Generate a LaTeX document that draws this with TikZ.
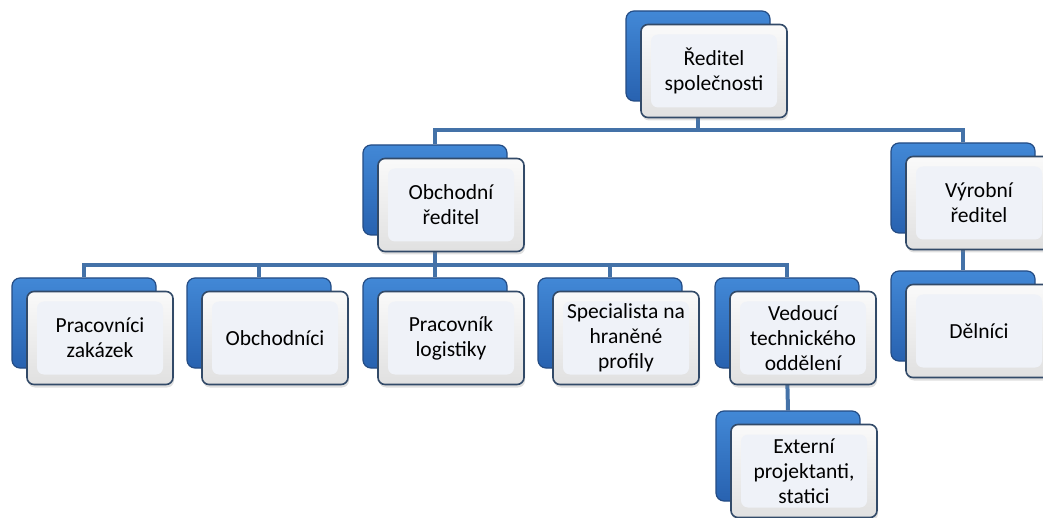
\documentclass[tikz,border=0pt]{standalone}
\usepackage{fontspec}
\setmainfont{Carlito}
\usetikzlibrary{backgrounds,shadows}

\definecolor{conncol}{RGB}{68,114,168}
\definecolor{backtop}{RGB}{66,136,214}
\definecolor{backbot}{RGB}{40,98,176}
\definecolor{backline}{RGB}{36,76,132}
\definecolor{frontline}{RGB}{50,74,104}
\definecolor{frontin}{RGB}{239,242,248}

\tikzset{
  backbox/.style={draw=backline, line width=1.2pt, rounded corners=8pt,
    top color=backtop, bottom color=backbot,
    minimum width=144pt, minimum height=90pt, inner sep=0pt},
  frontbox/.style={draw=frontline, line width=1.6pt, rounded corners=7pt,
    top color=gray!4, bottom color=gray!24,
    minimum width=146pt, minimum height=93pt, inner sep=0pt, align=center,
    font=\fontsize{21.5}{25}\selectfont,
    drop shadow={opacity=0.25, shadow xshift=1pt, shadow yshift=-3pt},
    path picture={\fill[frontin]
      ([shift={(10pt,-10pt)}]path picture bounding box.north west) rectangle
      ([shift={(-10pt,10pt)}]path picture bounding box.south east);}},
  conn/.style={draw=conncol, line width=4pt}
}

\begin{document}
\begin{tikzpicture}[x=1pt,y=-1pt]
  \useasboundingbox (0,0) rectangle (1043,518);

  % boxes: back plate and front card
  \foreach \nm/\x/\y/\txt in {ceo/626/11/{Ředitel\\společnosti},
      obch/363/145/{Obchodní\\ředitel}, vyr/891/143/{Výrobní\\ředitel},
      zak/12/278/{Pracovníci\\zakázek}, obchodnici/187/278/{Obchodníci},
      log/363/278/{Pracovník\\logistiky}, spec/538/278/{Specialista na\\hraněné\\profily},
      ved/715/278/{Vedoucí\\technického\\oddělení}, del/891/271/{Dělníci},
      ext/716/411/{Externí\\projektanti,\\statici}}
  {
    \node[backbox] (\nm-b) at (\x+72,\y+45) {};
    \node[frontbox] (\nm) at (\x+88,\y+60) {\txt};
  }

  \begin{scope}[on background layer]
    \draw[conn] (ceo-b.south) -- ++(0,28) -| (obch-b.north);
    \draw[conn] (ceo-b.south) -- ++(0,28) -| (vyr-b.north);
    \foreach \k in {zak,obchodnici,log,spec,ved}
      \draw[conn] (obch-b.south) -- ++(0,29) -| (\k-b.north);
    \draw[conn] (vyr-b.south) -- (del-b.north);
    \draw[conn] (ved-b.south) -- (ext-b.north);
  \end{scope}
\end{tikzpicture}
\end{document}
